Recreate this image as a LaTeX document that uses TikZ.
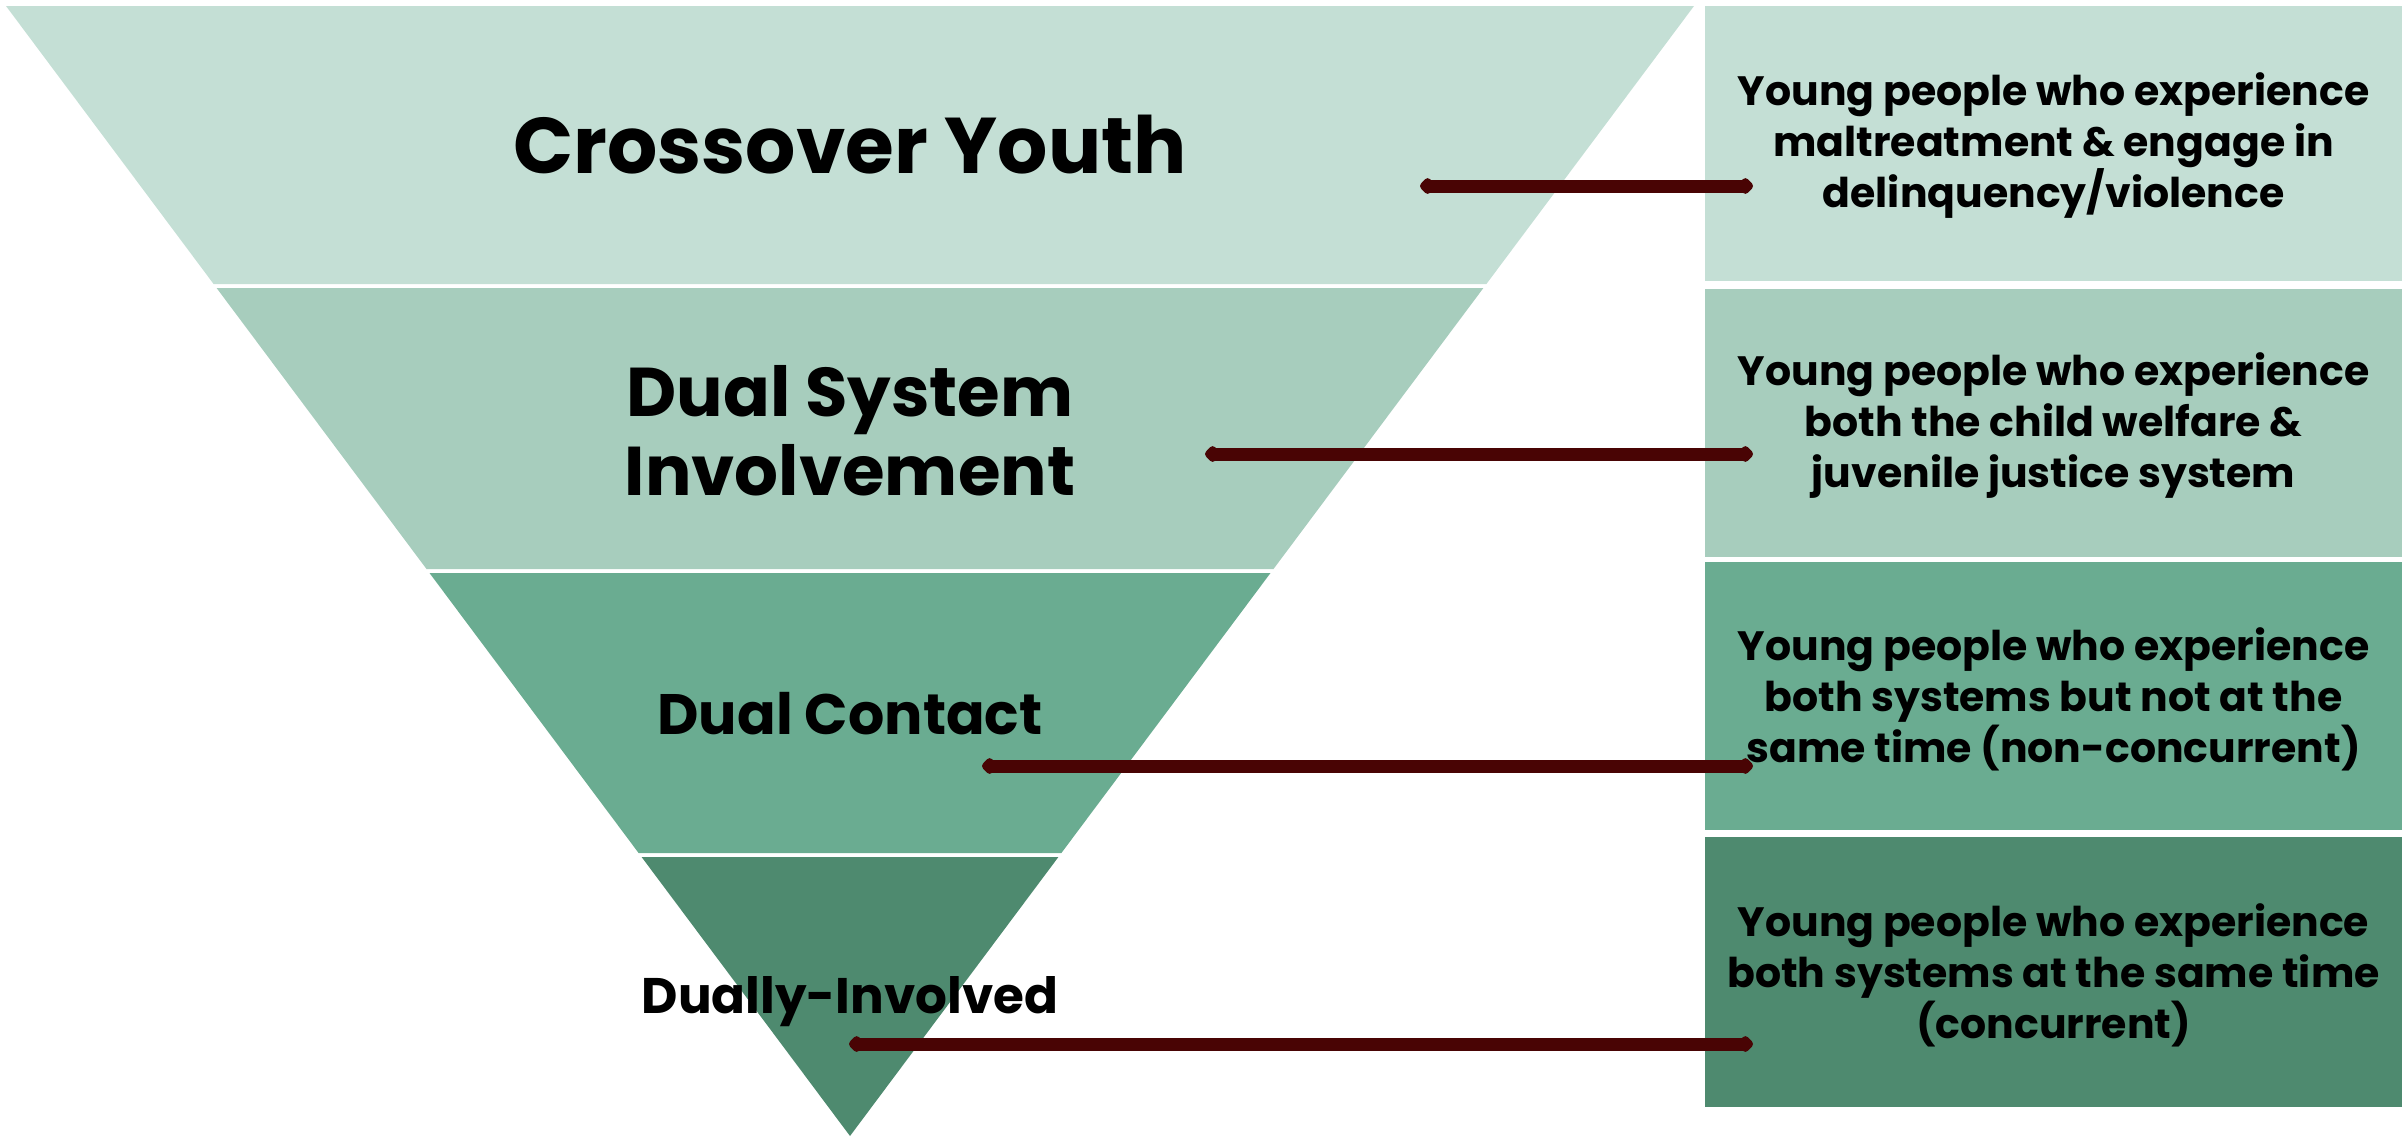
\documentclass[tikz,border=0pt]{standalone}
\usepackage{fontspec}
\setmainfont{Poppins}
\usetikzlibrary{arrows.meta}
\definecolor{cA}{HTML}{C4DFD5}
\definecolor{cB}{HTML}{A7CDBD}
\definecolor{cC}{HTML}{6AAC91}
\definecolor{cD}{HTML}{4E8A6F}
\definecolor{arrowc}{HTML}{490404}
\tikzset{
  infobox/.style={minimum width=697pt, inner sep=0pt},
  infotext/.style={inner sep=0pt, align=center, font=\bfseries\fontsize{41}{51}\selectfont},
  lvl/.style={inner sep=0pt, align=center, font=\bfseries},
  conn/.style={draw=arrowc, line width=13pt, {Diamond[length=18pt,width=19pt,round]}-{Diamond[length=18pt,width=19pt,round]}}
}
\begin{document}
\begin{tikzpicture}[x=1pt,y=-1pt]
\useasboundingbox (0,0) rectangle (2407,1138);
% bands
\fill[cA] (6,6) -- (1694,6) -- (1486.4,284) -- (213.6,284) -- cycle;
\fill[cB] (216.6,288) -- (1483.4,288) -- (1273.5,569) -- (426.5,569) -- cycle;
\fill[cC] (429.5,573) -- (1270.5,573) -- (1061.4,853) -- (638.6,853) -- cycle;
\fill[cD] (641.6,857) -- (1058.4,857) -- (850,1136) -- cycle;
% band labels
\node[lvl, font=\bfseries\fontsize{79}{90}\selectfont] (l1) at (850,145) {Crossover Youth};
\node[lvl, font=\bfseries\fontsize{69}{79}\selectfont] (l2) at (850,431) {Dual System\\Involvement};
\node[lvl, font=\bfseries\fontsize{57}{66}\selectfont] (l3) at (850,714) {Dual Contact};
\node[lvl, font=\bfseries\fontsize{50}{60}\selectfont] (l4) at (850,1002) {Dually-Involved};
% boxes
\node[infobox, fill=cA, minimum height=275pt] (b1) at (2053.5,143.5) {};
\node[infobox, fill=cB, minimum height=268pt] (b2) at (2053.5,423) {};
\node[infobox, fill=cC, minimum height=268pt] (b3) at (2053.5,696) {};
\node[infobox, fill=cD, minimum height=270pt] (b4) at (2053.5,972) {};
\node[infotext] (t1) at (2053.5,146) {Young people who experience\\maltreatment \& engage in\\delinquency/violence};
\node[infotext] (t2) at (2053.5,426) {Young people who experience\\both the child welfare \&\\juvenile justice system};
\node[infotext] (t3) at (2053.5,699) {Young people who experience\\both systems but not at the\\same time (non-concurrent)};
\node[infotext] (t4) at (2053.5,975) {Young people who experience\\both systems at the same time\\(concurrent)};
% connector ends
\coordinate (s1) at (1420,186);
\coordinate (e1) at (1753,186);
\coordinate (s2) at (1205,454);
\coordinate (e2) at (1753,454);
\coordinate (s3) at (982,766);
\coordinate (e3) at (1753,766);
\coordinate (s4) at (849,1044);
\coordinate (e4) at (1753,1044);
\draw[conn] (s1) -- (e1);
\draw[conn] (s2) -- (e2);
\draw[conn] (s3) -- (e3);
\draw[conn] (s4) -- (e4);
\end{tikzpicture}
\end{document}
